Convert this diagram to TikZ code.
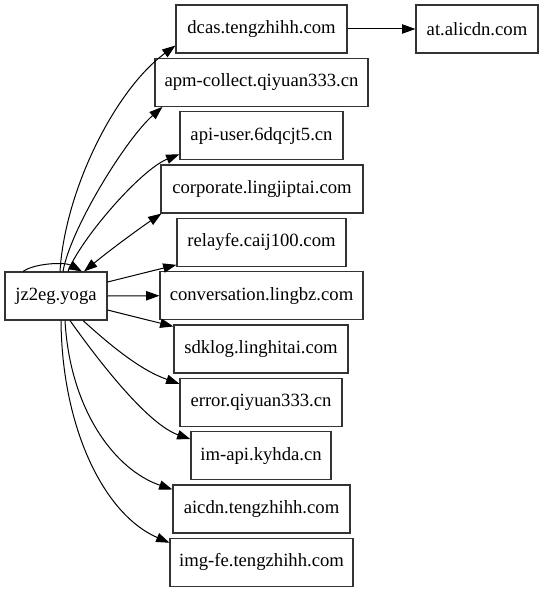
\documentclass[tikz,border=0pt]{standalone}
\usepackage{fontspec}
\setmainfont{Liberation Serif}
\usetikzlibrary{arrows.meta,calc}
\begin{document}
\begin{tikzpicture}[x=0.75pt,y=-0.75pt,
  box/.style={draw=black!80,line width=0.8pt,rectangle,minimum height=36pt,inner sep=0pt,
    font=\fontsize{14}{16}\selectfont},
  edge/.style={line width=0.75pt,-{Triangle[length=10pt,width=7pt]}},
  bothedge/.style={line width=0.75pt,{Triangle[length=10pt,width=7pt]}-{Triangle[length=10pt,width=7pt]}}]
\useasboundingbox (0,0) rectangle (544,592);
\node[box,minimum width=76.5pt] (jz) at (56,296) {jz2eg.yoga};
\node[box,minimum width=128.25pt] (dcas) at (261.5,29) {dcas.tengzhihh.com};
\node[box,minimum width=159.75pt] (apm) at (261.5,82.3) {apm-collect.qiyuan333.cn};
\node[box,minimum width=122.25pt] (api) at (261.5,135.7) {api-user.6dqcjt5.cn};
\node[box,minimum width=151.5pt] (corp) at (262,189) {corporate.lingjiptai.com};
\node[box,minimum width=126.75pt] (relay) at (261.5,242.3) {relayfe.caij100.com};
\node[box,minimum width=152.25pt] (conv) at (261.5,295.7) {conversation.lingbz.com};
\node[box,minimum width=130.5pt] (sdk) at (261,349) {sdklog.linghitai.com};
\node[box,minimum width=121.5pt] (err) at (261,402.3) {error.qiyuan333.cn};
\node[box,minimum width=105pt] (im) at (261,455.7) {im-api.kyhda.cn};
\node[box,minimum width=132.75pt] (aicdn) at (261.5,509) {aicdn.tengzhihh.com};
\node[box,minimum width=137.25pt] (img) at (261.5,562.3) {img-fe.tengzhihh.com};
\node[box,minimum width=91.5pt] (at) at (477,29) {at.alicdn.com};

\draw[edge] (dcas.east) -- (at.west);
\draw[edge] ($(jz.north)+(-33,0)$) .. controls (35,263) and (65,262) .. ($(jz.north)+(26,0)$);
\draw[edge] ($(jz.north)+(4,0)$) .. controls (65,190) and (115,90) .. ($(dcas.south west)+(0,-8)$);
\draw[edge] ($(jz.north)+(7,0)$) .. controls (70,230) and (125,140) .. ($(apm.south west)+(8,0)$);
\draw[edge] ($(jz.north)+(12,0)$) .. controls (80,240) and (140,170) .. ($(api.south west)+(0,-6)$);
\draw[bothedge] ($(jz.north)+(28,0)$) .. controls (110,250) and (140,228) .. ($(corp.south west)+(1,0)$);
\draw[edge] ($(jz.east)+(0,-14)$) -- ($(relay.south west)+(0,-2)$);
\draw[edge] (jz.east) -- (conv.west);
\draw[edge] ($(jz.east)+(0,14)$) -- ($(sdk.north west)+(0,2)$);
\draw[edge] ($(jz.south)+(27,0)$) .. controls (110,345) and (140,370) .. ($(err.north west)+(0,6)$);
\draw[edge] ($(jz.south)+(14,0)$) .. controls (105,370) and (150,425) .. ($(im.north west)+(0,8)$);
\draw[edge] ($(jz.south)+(9,0)$) .. controls (70,410) and (115,470) .. ($(aicdn.north west)+(0,5)$);
\draw[edge] ($(jz.south)+(5,0)$) .. controls (62,430) and (105,515) .. ($(img.north west)+(0,5)$);
\end{tikzpicture}
\end{document}
